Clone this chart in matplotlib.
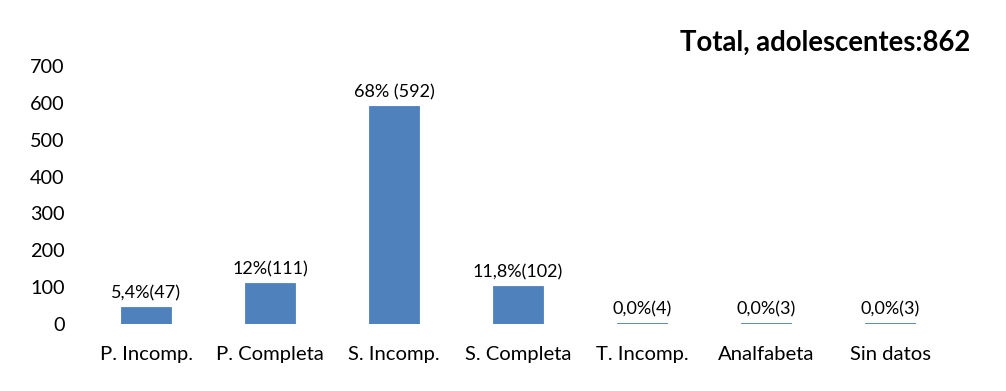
import matplotlib.pyplot as plt

categories = ['P. Incomp.', 'P. Completa', 'S. Incomp.', 'S. Completa',
              'T. Incomp.', 'Analfabeta', 'Sin datos']
counts = [47, 111, 592, 102, 4, 3, 3]
labels = ['5,4%(47)', '12%(111)', '68% (592)', '11,8%(102)',
          '0,0%(4)', '0,0%(3)', '0,0%(3)']
yticks = [0, 100, 200, 300, 400, 500, 600, 700]

plt.rcParams['font.family'] = ['Lato', 'DejaVu Sans']

fig = plt.figure(figsize=(10.06, 3.91), dpi=100)
ax = fig.add_axes([84 / 1006, 67 / 391, 868 / 1006, 258 / 391])

x = range(len(categories))
bars = ax.bar(x, counts, width=0.4, color='#4F81BD',
              edgecolor='#4F81BD', linewidth=0.6)

for bar, lab in zip(bars, labels):
    ax.annotate(lab, (bar.get_x() + bar.get_width() / 2, bar.get_height()),
                xytext=(0, 4), textcoords='offset points',
                ha='center', va='bottom', fontsize=13, color='#000000')

ax.set_xlim(-0.5, len(categories) - 0.5)
ax.set_ylim(0, 700)
ax.set_yticks(yticks)
ax.set_xticks(list(x))
ax.set_xticklabels(categories)
ax.tick_params(axis='y', length=0, pad=14, labelsize=14.3)
ax.tick_params(axis='x', length=0, pad=16, labelsize=14.6)
for s in ax.spines.values():
    s.set_visible(False)

fig.text(970 / 1006, 1 - 43 / 391, 'Total, adolescentes:862',
         ha='right', va='center', fontsize=19.8, fontweight='bold')

fig.savefig('out.png', dpi=100, facecolor='white')
